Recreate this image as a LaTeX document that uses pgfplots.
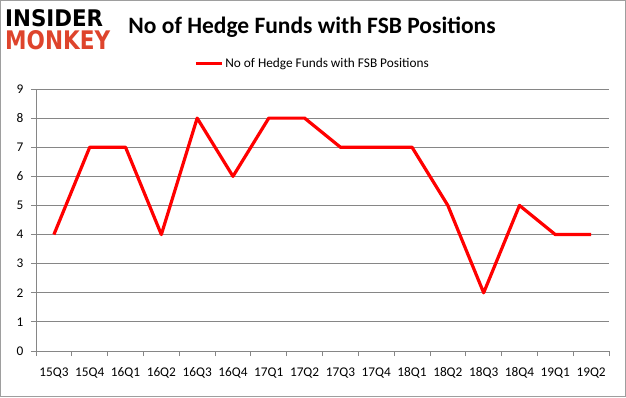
\documentclass[border=0pt]{standalone}
\usepackage{pgfplots}
\pgfplotsset{compat=1.18}
\usepackage{fontspec}
\setmainfont{Carlito}
\newfontfamily\logofont{DejaVu Sans}
\definecolor{gridgray}{RGB}{134,134,134}
\definecolor{logored}{RGB}{222,68,44}
\begin{document}
\begin{tikzpicture}[x=1pt,y=1pt]
\draw[gridgray!80, line width=0.8pt] (0.4,0.4) rectangle (625.6,396.6);
\node[anchor=south west, inner sep=0pt] at (5,370) {\resizebox{98pt}{17pt}{\logofont\bfseries INSIDER}};
\node[anchor=south west, inner sep=0pt] at (5,347) {\resizebox{105pt}{19pt}{\logofont\bfseries\color{logored}MONKEY}};
\node[font=\fontsize{23.5}{28}\selectfont\bfseries] at (312,370) {No of Hedge Funds with FSB Positions};
\begin{axis}[
  at={(36pt,46pt)}, anchor=south west,
  scale only axis, width=573pt, height=262pt,
  xmin=-0.5, xmax=15.5, ymin=0, ymax=9,
  axis x line=bottom, axis y line=left,
  axis line style={gridgray, line width=0.8pt, -},
  xtick={0,...,15},
  xticklabels={15Q3,15Q4,16Q1,16Q2,16Q3,16Q4,17Q1,17Q2,17Q3,17Q4,18Q1,18Q2,18Q3,18Q4,19Q1,19Q2},
  major x tick style={draw=none},
  minor xtick={-0.5,0.5,...,15.5},
  minor x tick style={gridgray, line width=0.8pt},
  minor tick length=5pt,
  ytick={0,...,9},
  ymajorgrids, grid style={gridgray, line width=0.8pt},
  major y tick style={gridgray, line width=0.8pt},
  major tick length=5pt,
  tick align=outside,
  tick label style={font=\fontsize{13.3}{15}\selectfont},
  /pgf/number format/assume math mode=true,
  xticklabel style={yshift=-8pt},
  yticklabel style={xshift=-4pt},
  legend style={at={(0.4825,1.0)}, anchor=south, yshift=17pt, draw=none, fill=none, font=\fontsize{13.3}{15}\selectfont, inner sep=1pt},
  legend cell align=left,
  legend image code/.code={\draw[#1] (0pt,0pt) -- (26pt,0pt);},
  clip=false,
]
\addplot[red, line width=3.2pt, line join=round] coordinates {
(0,4) (1,7) (2,7) (3,4) (4,8) (5,6) (6,8) (7,8) (8,7) (9,7) (10,7) (11,5) (12,2) (13,5) (14,4) (15,4)};
\addlegendentry{No of Hedge Funds with FSB Positions}
\end{axis}
\end{tikzpicture}
\end{document}
